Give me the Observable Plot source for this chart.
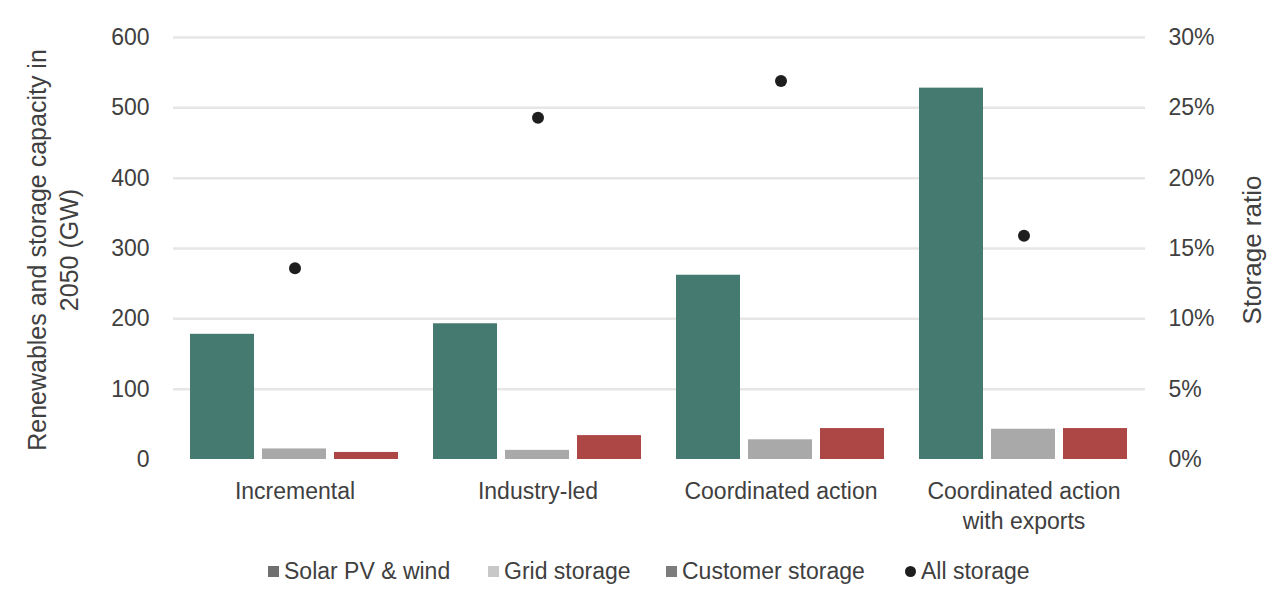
<!DOCTYPE html>
<html>
<head>
<meta charset="utf-8">
<script src="https://cdn.jsdelivr.net/npm/d3@7"></script>
<script src="https://cdn.jsdelivr.net/npm/@observablehq/plot@0.6"></script>
<style>
  html, body { margin: 0; padding: 0; background: #fff; }
  body { width: 1284px; height: 601px; overflow: hidden; font-family: "Liberation Sans", Arial, sans-serif; }
  #legend { position: relative; height: 61px; font-size: 23px; color: #404040; }
  #legend .item { position: absolute; top: 18px; display: flex; align-items: center; white-space: nowrap; }
  #legend .sw { width: 11px; height: 11px; margin-right: 5px; }
  #legend .dot { width: 11px; height: 11px; border-radius: 50%; margin-right: 5px; }
</style>
</head>
<body>
<div id="chart"></div>
<div id="legend"></div>
<script>
const scenarios = ["Incremental", "Industry-led", "Coordinated action", "Coordinated action\nwith exports"];
const series = ["Solar PV & wind", "Grid storage", "Customer storage"];
const solarWind = [178, 193, 262, 528];
const gridStorage = [15, 13, 28, 43];
const customerStorage = [10, 34, 44, 44];
const allStorageRatio = [13.6, 24.3, 26.9, 15.9]; // percent
const leftTicks = [0, 100, 200, 300, 400, 500, 600];
const rightTicks = ["0%", "5%", "10%", "15%", "20%", "25%", "30%"];
const legendLabels = ["Solar PV & wind", "Grid storage", "Customer storage", "All storage"];
const barColors = ["#457a70", "#a9a9a9", "#ad4746"];
const legendColors = ["#707070", "#c8c8c8", "#7c7c7c", "#1e1e1e"];

const values = [solarWind, gridStorage, customerStorage];
const bars = [];
scenarios.forEach((s, i) => series.forEach((k, j) => bars.push({scenario: s, series: k, value: values[j][i]})));
const ratios = scenarios.map((s, i) => ({scenario: s, ratio: allStorageRatio[i]}));
const gwPerPct = leftTicks[leftTicks.length - 1] / 30;

const chart = Plot.plot({
  width: 1284,
  height: 540,
  marginTop: 37,
  marginBottom: 81,
  marginLeft: 171,
  marginRight: 138,
  style: {fontFamily: "Liberation Sans, Arial, sans-serif", fontSize: "23px", color: "#404040", background: "#fff"},
  fx: {domain: scenarios, padding: 0, label: null},
  x: {domain: series, paddingInner: 0.11, paddingOuter: 0.224, axis: null},
  y: {domain: [0, 600], axis: null},
  color: {domain: series, range: barColors},
  marks: [
    Plot.ruleY(leftTicks.slice(1), {stroke: "#e6e6e6", strokeWidth: 2.5}),
    Plot.barY(bars, {fx: "scenario", x: "series", y: "value", fill: "series"}),
    Plot.dot(ratios, {fx: "scenario", y: d => d.ratio * gwPerPct, r: 6, fill: "#1e1e1e"}),
    Plot.axisFx({anchor: "bottom", tickSize: 0, tickPadding: 18, label: null, fill: "#404040", lineHeight: 1.3}),
    Plot.axisY(leftTicks, {anchor: "left", tickSize: 0, tickPadding: 24, label: null, fill: "#404040"}),
    Plot.axisY(leftTicks, {anchor: "right", tickSize: 0, tickPadding: 23, label: null, fill: "#404040",
      tickFormat: (d, i) => rightTicks[i]})
  ]
});
document.getElementById("chart").appendChild(chart);

// axis titles
const svg = d3.select(chart);
const lt = svg.append("text")
  .attr("transform", "translate(52,250) rotate(-90)")
  .attr("text-anchor", "middle")
  .attr("fill", "#404040")
  .style("font-size", "25px");
lt.append("tspan").attr("x", 0).attr("dy", "-0.25em").text("Renewables and storage capacity in");
lt.append("tspan").attr("x", 0).attr("dy", "1.27em").text("2050 (GW)");
svg.append("text")
  .attr("transform", "translate(1252,250) rotate(-90)")
  .attr("text-anchor", "middle")
  .attr("fill", "#404040")
  .style("font-size", "26px")
  .attr("dy", "0.35em")
  .text("Storage ratio");

// legend
const legendX = [268, 488, 666, 905];
const legend = d3.select("#legend");
legendLabels.forEach((s, i) => {
  const it = legend.append("div").attr("class", "item").style("left", legendX[i] + "px");
  it.append("div").attr("class", i === 3 ? "dot" : "sw").style("background", legendColors[i]);
  it.append("span").text(s);
});
</script>
</body>
</html>
